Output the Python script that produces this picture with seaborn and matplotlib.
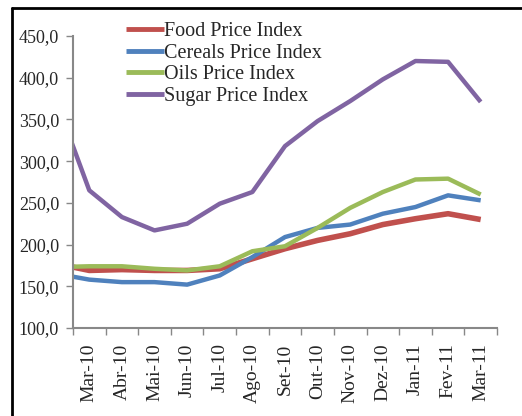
import matplotlib
matplotlib.use('agg')
import pandas as pd
import seaborn as sns
import matplotlib.pyplot as plt
from matplotlib.lines import Line2D

# Fev-10 is only the clipped lead-in at the left edge
months = ["Fev-10", "Mar-10", "Abr-10", "Mai-10", "Jun-10", "Jul-10", "Ago-10",
          "Set-10", "Out-10", "Nov-10", "Dez-10", "Jan-11", "Fev-11", "Mar-11"]
food = [177, 169, 170, 169, 169, 171, 183, 195, 205, 213, 224, 231, 237, 230]
cereals = [165, 158, 155, 155, 152, 163, 185, 209, 220, 224, 237, 245, 259, 253]
oils = [173, 174, 174, 171, 169, 174, 192, 198, 220, 244, 263, 278, 279, 260]
sugar = [371, 265, 233, 217, 225, 249, 263, 318, 348, 372, 398, 420, 419, 371]
yticks = [100, 150, 200, 250, 300, 350, 400, 450]

series = {"Food Price Index": food, "Cereals Price Index": cereals,
          "Oils Price Index": oils, "Sugar Price Index": sugar}
colors = {"Food Price Index": "#C0504D", "Cereals Price Index": "#4F81BD",
          "Oils Price Index": "#9BBB59", "Sugar Price Index": "#8064A2"}
widths = {"Food Price Index": 4.0, "Cereals Price Index": 3.2,
          "Oils Price Index": 3.2, "Sugar Price Index": 3.2}

rows = []
for name, vals in series.items():
    for i, v in enumerate(vals):
        rows.append({"pos": i - 1, "month": months[i], "value": v, "series": name})
df = pd.DataFrame(rows)

sns.set_style("white")
plt.rcParams['font.family'] = ['Liberation Serif', 'DejaVu Serif']

fig = plt.figure(figsize=(5.22, 4.16), dpi=100)
ax = fig.add_axes([0.1398, 0.2115, 0.8123, 0.702])

for name in series:
    sub = df[df["series"] == name]
    sns.lineplot(data=sub, x="pos", y="value", ax=ax, color=colors[name],
                 linewidth=widths[name], label=name, solid_capstyle='butt')

n = len(months) - 1
ax.set_xlim(-0.5, n - 0.5)
ax.set_ylim(100, 450)
ax.set_yticks(yticks)
ax.set_yticklabels([f"{t:.1f}".replace(".", ",") for t in yticks], fontsize=13)
ax.set_xticks([i - 0.5 for i in range(n + 1)])
ax.set_xticklabels([])
ax.set_xticks(range(n), minor=True)
ax.set_xticklabels(months[1:], minor=True, rotation=90, fontsize=14)
ax.tick_params(axis='x', which='major', length=5, width=1, color='#888888', direction='out', bottom=True)
ax.tick_params(axis='x', which='minor', length=0, pad=11)
ax.tick_params(axis='y', length=5, width=1, color='#888888', direction='out', left=True, pad=5)
ax.set_xlabel("")
ax.set_ylabel("")

for side in ["top", "right"]:
    ax.spines[side].set_visible(False)
for side in ["left", "bottom"]:
    ax.spines[side].set_color('#888888')
    ax.spines[side].set_linewidth(1.5)

leg = ax.legend(loc='upper left', bbox_to_anchor=(0.105, 1.075), frameon=False,
                fontsize=14.5, handlelength=1.9, handletextpad=0.0,
                labelspacing=0.12, borderaxespad=0)
for h in leg.get_lines():
    h.set_linewidth(3.5)

# outer frame: only top and left edges are visible in the crop
fx, fy = 12 / 522, 1 - 8 / 416
fig.add_artist(Line2D([fx, 1.0], [fy, fy], transform=fig.transFigure, color='black', linewidth=2))
fig.add_artist(Line2D([fx, fx], [0.0, fy], transform=fig.transFigure, color='black', linewidth=2))

fig.savefig("out.png", dpi=100)
